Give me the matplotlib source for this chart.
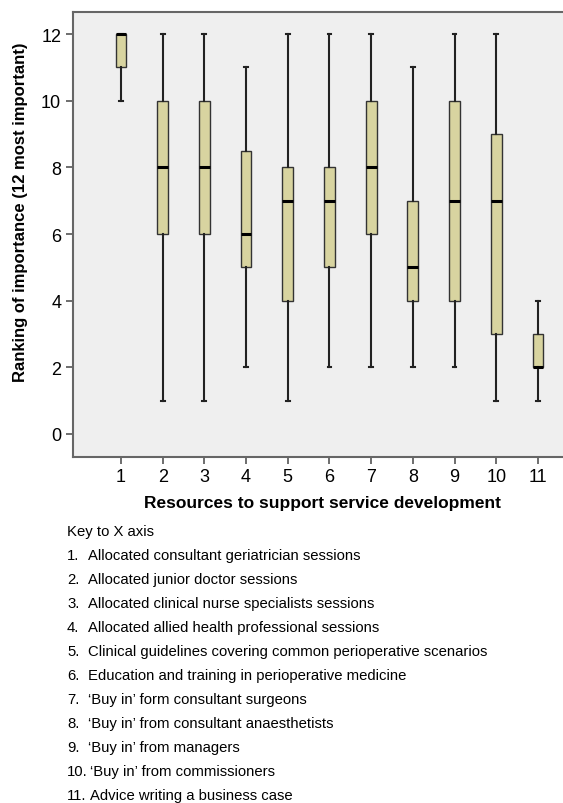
import matplotlib
matplotlib.use("Agg")
import matplotlib.pyplot as plt

categories = [1, 2, 3, 4, 5, 6, 7, 8, 9, 10, 11]
whislo = [10, 1, 1, 2, 1, 2, 2, 2, 2, 1, 1]
q1 = [11, 6, 6, 5, 4, 5, 6, 4, 4, 3, 2]
med = [12, 8, 8, 6, 7, 7, 8, 5, 7, 7, 2]
q3 = [12, 10, 10, 8.5, 8, 8, 10, 7, 10, 9, 3]
whishi = [12, 12, 12, 11, 12, 12, 12, 11, 12, 12, 4]
yticks = [0, 2, 4, 6, 8, 10, 12]

key_title = "Key to X axis"
key_items = [
    "Allocated consultant geriatrician sessions",
    "Allocated junior doctor sessions",
    "Allocated clinical nurse specialists sessions",
    "Allocated allied health professional sessions",
    "Clinical guidelines covering common perioperative scenarios",
    "Education and training in perioperative medicine",
    "\u2018Buy in\u2019 form consultant surgeons",
    "\u2018Buy in\u2019 from consultant anaesthetists",
    "\u2018Buy in\u2019 from managers",
    "\u2018Buy in\u2019 from commissioners",
    "Advice writing a business case",
]

plt.rcParams['font.family'] = ['Liberation Sans', 'DejaVu Sans']

fig = plt.figure(figsize=(5.63, 8.04), dpi=100)
ax = fig.add_axes([73/563, 1 - 458/804, 1 - 73/563, (458 - 13)/804])
ax.set_facecolor('#efefef')

stats = []
for c, lo, a, m, b, hi in zip(categories, whislo, q1, med, q3, whishi):
    stats.append(dict(whislo=lo, q1=a, med=m, q3=b, whishi=hi, fliers=[], label=str(c)))

ax.bxp(stats, positions=categories, widths=0.26, patch_artist=True, showfliers=False,
       boxprops=dict(facecolor='#d8d4a0', edgecolor='#333333', linewidth=1.0),
       medianprops=dict(color='black', linewidth=2.2),
       whiskerprops=dict(color='#222222', linewidth=1.5),
       capprops=dict(color='#222222', linewidth=1.5),
       capwidths=0.09)

ax.set_xlim(-0.15, 11.6)
ax.set_ylim(-0.69, 12.66)
ax.set_yticks(yticks)
ax.set_xticks(categories)
ax.set_xticklabels([str(c) for c in categories])
ax.tick_params(axis='both', labelsize=13, color='#555555', length=5, width=1.2)
ax.tick_params(axis='x', pad=3)
for s in ['top', 'left', 'bottom']:
    ax.spines[s].set_color('#666666')
    ax.spines[s].set_linewidth(1.5)
ax.spines['right'].set_visible(False)

ax.set_ylabel("Ranking of importance (12 most important)", fontsize=12, fontweight='bold',
              va='center')
ax.yaxis.set_label_coords(-0.108, 0.552)
ax.set_xlabel("Resources to support service development", fontsize=12.5, fontweight='bold',
              va='center')
ax.xaxis.set_label_coords((323 - 73) / 490, -(504 - 458) / 445)

x0 = 67 / 563
y_start = 532
step = 24
fs = 10.7
fig.text(x0, 1 - y_start/804, key_title, fontsize=fs, va='center', ha='left')
for i, item in enumerate(key_items):
    y = 1 - (y_start + step * (i + 1)) / 804
    num = f"{i + 1}."
    fig.text(x0, y, num, fontsize=fs, va='center', ha='left')
    tx = (88 if i < 9 else 90) / 563
    fig.text(tx, y, item, fontsize=fs, va='center', ha='left')

fig.savefig("out.png", dpi=100)
